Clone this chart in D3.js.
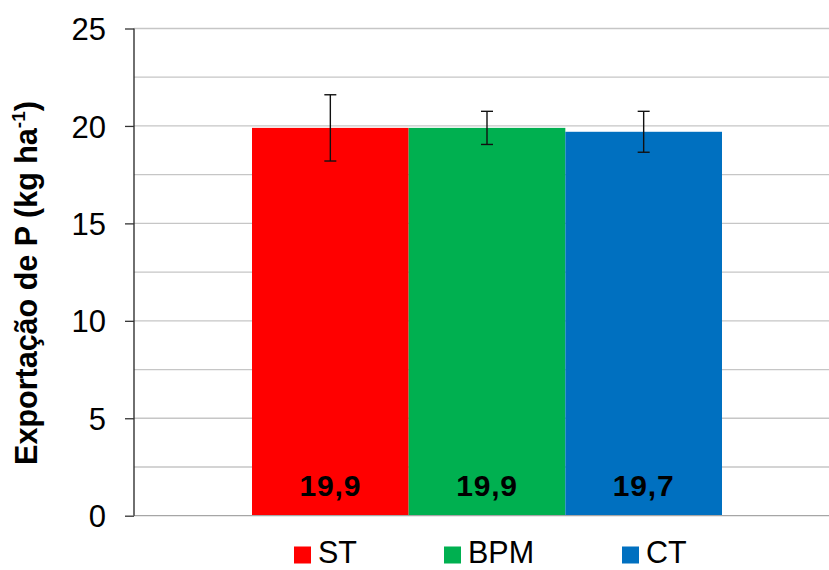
<!DOCTYPE html>
<html><head><meta charset="utf-8">
<script src="https://cdn.jsdelivr.net/npm/d3@7"></script>
<style>body{margin:0;background:#fff}svg{display:block}</style>
</head><body>
<script>
const categories = ["ST", "BPM", "CT"];
const values = [19.9, 19.9, 19.7];
const errors = [1.7, 0.85, 1.05];
const colors = ["#ff0000", "#00b050", "#0070c0"];
const yTicks = [0, 5, 10, 15, 20, 25];
const gridTicks = [0, 2.5, 5, 7.5, 10, 12.5, 15, 17.5, 20, 22.5, 25];
const labels = ["19,9", "19,9", "19,7"];

const W = 829, H = 570;
const m = {left: 134, top: 28.5, right: 840, bottom: 515.7};
const svg = d3.select("body").append("svg").attr("width", W).attr("height", H);

const y = d3.scaleLinear().domain([0, 25]).range([m.bottom, m.top]);
const x = d3.scaleBand().domain(categories).range([252, 722]).padding(0);

// grid
svg.append("g").selectAll("line").data(gridTicks.filter(d => d > 0)).join("line")
  .attr("x1", m.left).attr("x2", m.right)
  .attr("y1", d => y(d)).attr("y2", d => y(d))
  .attr("stroke", "#c6c6c6").attr("stroke-width", 1.3);

// bars
svg.append("g").selectAll("rect").data(categories).join("rect")
  .attr("x", d => x(d)).attr("width", x.bandwidth())
  .attr("y", (d, i) => y(values[i])).attr("height", (d, i) => y(0) - y(values[i]))
  .attr("fill", (d, i) => colors[i]);

// x baseline
svg.append("line").attr("x1", m.left).attr("x2", m.right)
  .attr("y1", y(0)).attr("y2", y(0)).attr("stroke", "#a6a6a6").attr("stroke-width", 1.3);

// y axis
const yAxis = d3.axisLeft(y).tickValues(yTicks).tickSize(9).tickPadding(19).tickFormat(d3.format("d"));
const ga = svg.append("g").attr("transform", `translate(${m.left},0)`).call(yAxis);
ga.select(".domain").attr("stroke", "#222").attr("stroke-width", 1.3).attr("d", `M0,${y(0)}V${y(25)}`);
ga.selectAll(".tick line").attr("stroke", "#333").attr("stroke-width", 1.3);
ga.selectAll(".tick text").attr("font-family", "Liberation Sans, Arial, sans-serif")
  .attr("font-size", 31).attr("fill", "#000").attr("dy", "0.36em");

// error bars
const eb = svg.append("g").attr("stroke", "#111").attr("stroke-width", 1.4);
categories.forEach((c, i) => {
  const cx = x(c) + x.bandwidth() / 2;
  const hi = y(values[i] + errors[i]), lo = y(values[i] - errors[i]);
  eb.append("line").attr("x1", cx).attr("x2", cx).attr("y1", hi).attr("y2", lo);
  eb.append("line").attr("x1", cx - 6).attr("x2", cx + 6).attr("y1", hi).attr("y2", hi);
  eb.append("line").attr("x1", cx - 6).attr("x2", cx + 6).attr("y1", lo).attr("y2", lo);
});

// value labels
svg.append("g").selectAll("text").data(categories).join("text")
  .attr("x", d => x(d) + x.bandwidth() / 2).attr("y", 495.5)
  .attr("text-anchor", "middle").attr("font-family", "Liberation Sans, Arial, sans-serif")
  .attr("font-weight", "bold").attr("font-size", 30).attr("letter-spacing", 0.8).attr("fill", "#000")
  .text((d, i) => labels[i]);

// y label
const yl = svg.append("text").attr("transform", `translate(37,283) rotate(-90)`)
  .attr("text-anchor", "middle").attr("font-family", "Liberation Sans, Arial, sans-serif")
  .attr("font-weight", "bold").attr("font-size", 30.5).attr("fill", "#000");
yl.append("tspan").text("Exportação de P (kg ha");
yl.append("tspan").attr("font-size", 19).attr("dy", -12).text("-1");
yl.append("tspan").attr("dy", 12).text(")");

// legend
const legX = [294, 444, 622];
const lg = svg.append("g");
categories.forEach((c, i) => {
  lg.append("rect").attr("x", legX[i]).attr("y", 546.5).attr("width", 17).attr("height", 17).attr("fill", colors[i]);
  lg.append("text").attr("x", legX[i] + 24).attr("y", 563)
    .attr("font-family", "Liberation Sans, Arial, sans-serif").attr("font-size", 30.5).attr("fill", "#000").text(c);
});
</script>
</body></html>
